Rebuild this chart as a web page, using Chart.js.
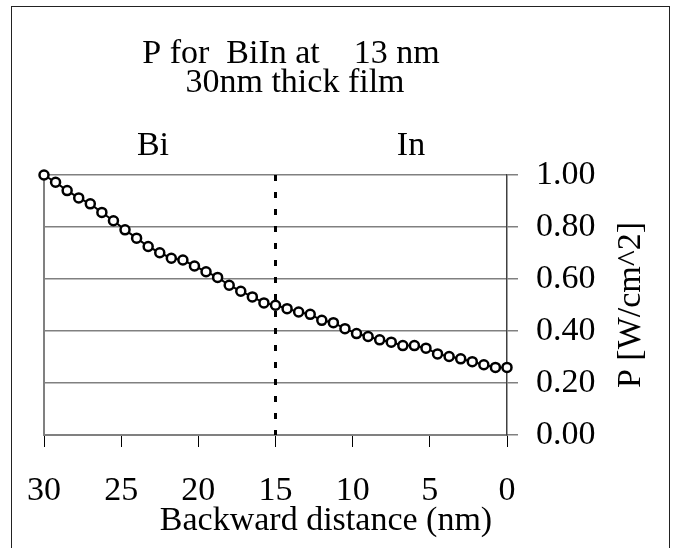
<!DOCTYPE html>
<html>
<head>
<meta charset="utf-8">
<title>P for BiIn at 13 nm</title>
<script src="https://cdn.jsdelivr.net/npm/chart.js@4.4.1/dist/chart.umd.min.js"></script>
<style>
  html, body { margin: 0; padding: 0; background: #fff; }
  #wrap { position: relative; width: 678px; height: 548px; overflow: hidden; }
  #frame {
    position: absolute; left: 11px; top: 6px; width: 657px; height: 600px;
    border: 1px solid #222; pointer-events: none;
  }
  canvas { display: block; }
</style>
</head>
<body>
<div id="wrap">
  <canvas id="chart" width="678" height="548"></canvas>
  <div id="frame"></div>
</div>
<script>
/* ---- data ---- */
const distance = [
  30, 29.25, 28.5, 27.75, 27, 26.25, 25.5, 24.75, 24, 23.25,
  22.5, 21.75, 21, 20.25, 19.5, 18.75, 18, 17.25, 16.5, 15.75,
  15, 14.25, 13.5, 12.75, 12, 11.25, 10.5, 9.75, 9, 8.25,
  7.5, 6.75, 6, 5.25, 4.5, 3.75, 3, 2.25, 1.5, 0.75, 0
];
const power = [
  1.000, 0.972, 0.940, 0.912, 0.889, 0.856, 0.824, 0.789, 0.757, 0.725,
  0.701, 0.680, 0.673, 0.650, 0.628, 0.606, 0.576, 0.553, 0.531, 0.508,
  0.499, 0.486, 0.473, 0.464, 0.441, 0.432, 0.409, 0.390, 0.379, 0.366,
  0.357, 0.344, 0.344, 0.334, 0.312, 0.302, 0.293, 0.282, 0.270, 0.260, 0.260
];
const boundaryX = 15;               // Bi | In interface
const boundaryY = [1, 0];
const titleLines = ['P for  BiIn at    13 nm', '30nm thick film'];
const layerLabels = ['Bi', 'In'];
const xTitle = 'Backward distance (nm)';
const yTitle = 'P [W/cm^2]';

const FONT = '"Liberation Serif", "Times New Roman", serif';
const FONT_SIZE = 34;
const GRID = '#808080';

/* ---- extra text + plot border ---- */
const decorations = {
  id: 'decorations',
  beforeDatasetsDraw(chart) {
    const { ctx, chartArea: a } = chart;
    ctx.save();
    ctx.strokeStyle = GRID;
    ctx.lineWidth = 2;
    ctx.beginPath();
    ctx.moveTo(a.left, a.bottom);
    ctx.lineTo(a.left, a.top);
    ctx.stroke();
    ctx.restore();
  },
  afterDraw(chart) {
    const { ctx, chartArea: a } = chart;
    ctx.save();
    ctx.fillStyle = '#000';
    ctx.font = `${FONT_SIZE}px ${FONT}`;
    ctx.textAlign = 'center';
    ctx.textBaseline = 'alphabetic';
    // chart title
    ctx.fillText(titleLines[0], a.left + 247, 63);
    ctx.fillText(titleLines[1], a.left + 251, 92);
    // layer labels
    ctx.fillText(layerLabels[0], a.left + 109, 155);
    ctx.fillText(layerLabels[1], a.left + 367, 155);
    // x title (sits right of centre in the original)
    ctx.fillText(xTitle, a.left + 282, 530);
    // y title, reading bottom to top on the right
    ctx.translate(640, (a.top + a.bottom) / 2);
    ctx.rotate(-Math.PI / 2);
    ctx.fillText(yTitle, 0, 0);
    ctx.restore();
  }
};

const ctx = document.getElementById('chart');
new Chart(ctx, {
  type: 'line',
  data: {
    datasets: [
      {
        label: 'P',
        data: distance.map((d, i) => ({ x: d, y: power[i] })),
        borderColor: '#000',
        borderWidth: 2,
        pointRadius: 4.5,
        pointBorderWidth: 2.5,
        pointBorderColor: '#000',
        pointBackgroundColor: '#fff',
        tension: 0,
        clip: false,
      },
      {
        label: 'interface',
        data: boundaryY.map(y => ({ x: boundaryX, y })),
        borderColor: '#000',
        borderWidth: 3,
        borderDash: [6, 11],
        pointRadius: 0,
        tension: 0,
      },
    ],
  },
  options: {
    responsive: false,
    animation: false,
    devicePixelRatio: 1,
    layout: { padding: { top: 175, left: 44, right: 0, bottom: 0 } },
    plugins: {
      legend: { display: false },
      title: { display: false },
      tooltip: { enabled: false },
    },
    scales: {
      x: {
        type: 'linear',
        reverse: true,
        min: 0,
        max: 30,
        ticks: {
          stepSize: 5,
          color: '#000',
          padding: 24,
          maxRotation: 0,
          font: { family: FONT, size: FONT_SIZE, lineHeight: 1.2 },
        },
        grid: { drawOnChartArea: false, drawTicks: true, tickLength: 12, color: '#000', lineWidth: 1 },
        border: { color: GRID, width: 2 },
        afterFit(scale) { scale.height = 113; },
      },
      y: {
        position: 'right',
        min: 0,
        max: 1,
        ticks: {
          stepSize: 0.2,
          color: '#000',
          padding: 18,
          callback: v => v.toFixed(2),
          font: { family: FONT, size: FONT_SIZE },
        },
        grid: { color: GRID, lineWidth: 1.5, tickLength: 11, tickColor: GRID },
        border: { color: '#404040', width: 1.5 },
        afterFit(scale) { scale.width = 171; },
      },
    },
  },
  plugins: [decorations],
});
</script>
</body>
</html>
